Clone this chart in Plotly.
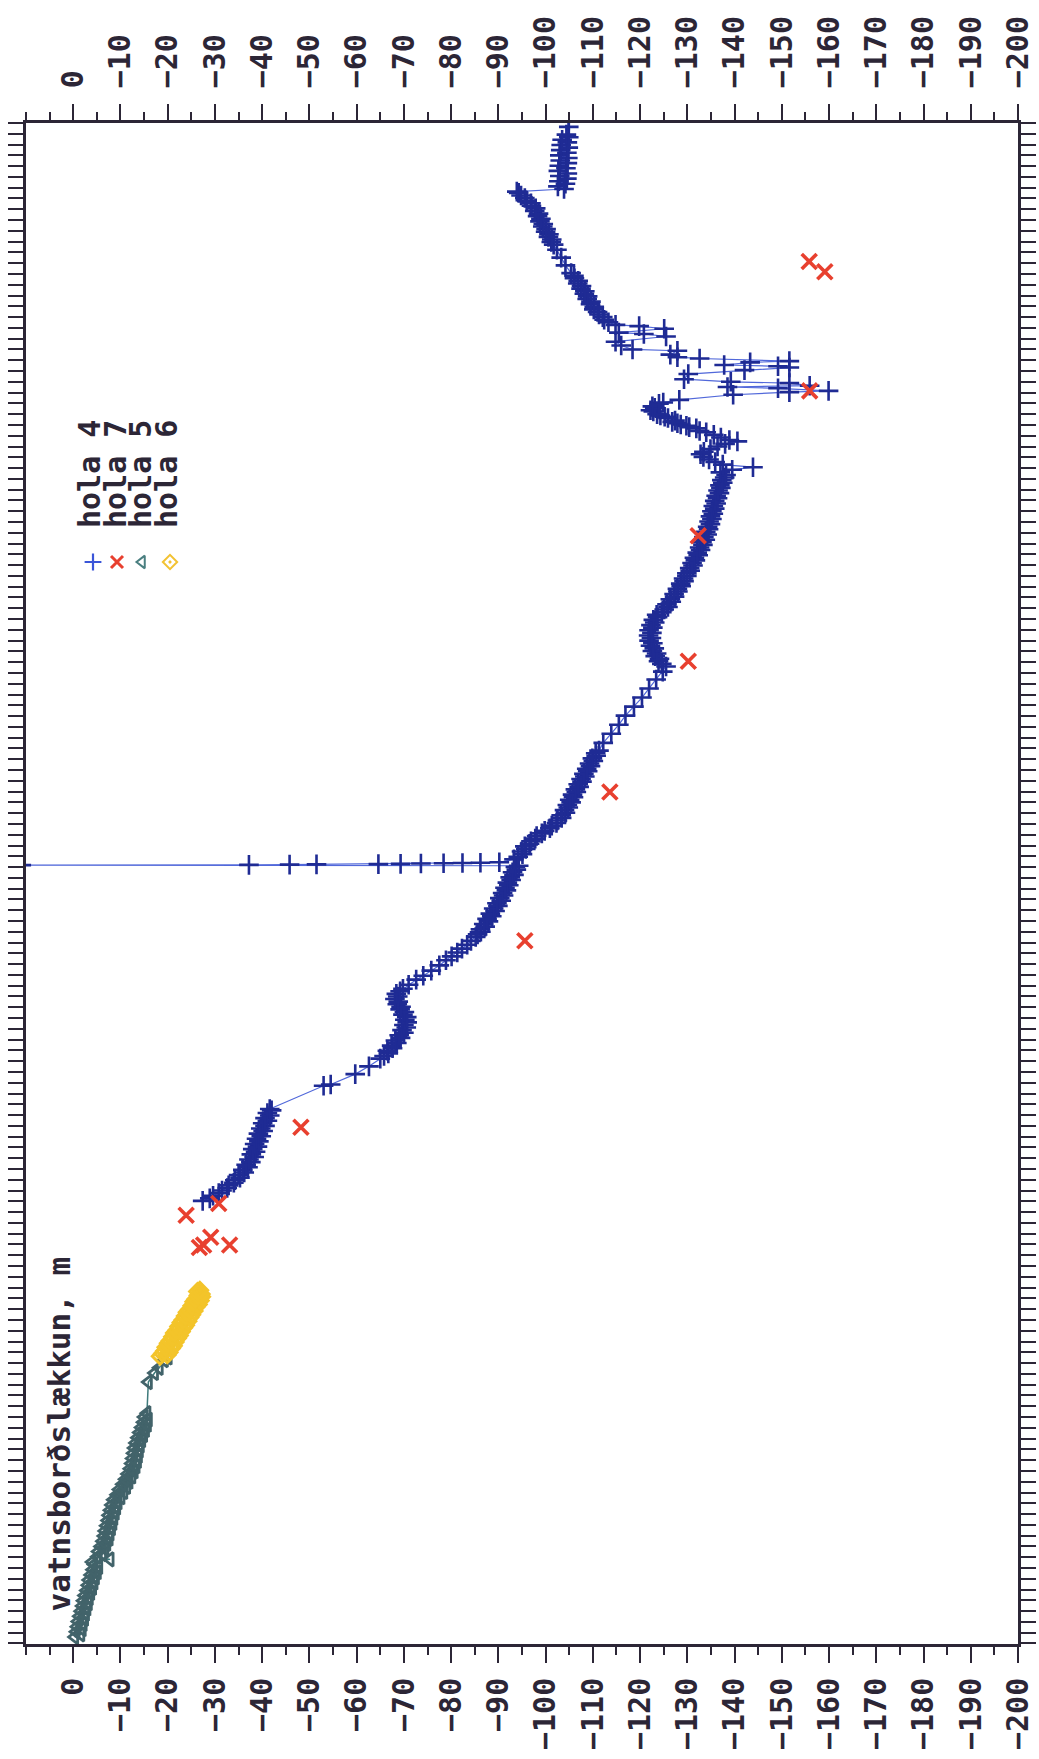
import plotly.graph_objects as go

# ---------------------------------------------------------------
# Water-level drawdown (m) in boreholes, plotted against time (yr).
# The sheet is drawn rotated: drawdown runs across, time runs up.
# ---------------------------------------------------------------

# hola 4: (time, drawdown) readings
h4 = [
    (1982.17, -27.4), (1982.19, -28.9), (1982.21, -29.6), (1982.23, -30.8), (1982.25, -31.5),
    (1982.27, -32.6), (1982.29, -32.9), (1982.31, -34.0), (1982.33, -34.2), (1982.35, -35.3),
    (1982.37, -35.0), (1982.39, -36.2), (1982.41, -35.9), (1982.43, -37.0), (1982.45, -36.6),
    (1982.47, -37.6), (1982.49, -37.2), (1982.51, -38.3), (1982.53, -37.7), (1982.55, -38.6),
    (1982.57, -38.0), (1982.59, -39.0), (1982.61, -38.4), (1982.63, -39.3), (1982.65, -38.8),
    (1982.67, -39.8), (1982.69, -39.2), (1982.71, -40.2), (1982.73, -39.7), (1982.75, -40.6),
    (1982.77, -40.1), (1982.79, -41.1), (1982.81, -40.6), (1982.83, -41.6), (1982.85, -41.1),
    (1982.87, -42.0), (1982.88, -41.6),
    (1983.06, -53.0), (1983.07, -54.5), (1983.15, -59.7), (1983.21, -62.6), (1983.27, -65.0),
    (1983.29, -65.8), (1983.31, -66.7), (1983.33, -66.5), (1983.35, -67.6), (1983.37, -67.4),
    (1983.39, -68.5), (1983.41, -68.2), (1983.43, -69.3), (1983.45, -69.0), (1983.47, -70.0),
    (1983.49, -69.6), (1983.51, -70.5), (1983.53, -70.0), (1983.55, -70.7), (1983.57, -70.2),
    (1983.59, -70.6), (1983.61, -69.8), (1983.63, -70.1), (1983.65, -69.2), (1983.67, -69.4),
    (1983.69, -68.6), (1983.71, -68.8), (1983.73, -68.1), (1983.75, -68.7), (1983.77, -68.4),
    (1983.79, -69.2), (1983.81, -69.8), (1983.84, -71.0),
    (1983.88, -72.6), (1983.91, -74.1), (1983.95, -75.8), (1983.99, -77.5), (1984.03, -78.9),
    (1984.06, -80.1), (1984.09, -81.3), (1984.12, -82.3), (1984.15, -83.4), (1984.18, -84.2),
    (1984.21, -85.2),
    (1984.23, -85.6), (1984.25, -86.3), (1984.27, -86.2), (1984.29, -87.2), (1984.31, -86.9),
    (1984.33, -87.9), (1984.35, -87.6), (1984.37, -88.6), (1984.39, -88.3), (1984.41, -89.3),
    (1984.43, -89.0), (1984.45, -89.9), (1984.47, -89.7), (1984.49, -90.6), (1984.51, -90.3),
    (1984.53, -91.1), (1984.55, -90.9), (1984.57, -91.7), (1984.59, -91.4), (1984.61, -92.2),
    (1984.63, -91.9), (1984.65, -92.7), (1984.67, -92.5), (1984.69, -93.3), (1984.71, -93.0),
    (1984.73, -93.8), (1984.75, -93.6), (1984.76, -94.3),
    # pump stop and recovery
    (1984.765, 11.0), (1984.767, -37.2), (1984.769, -45.8), (1984.771, -51.5),
    (1984.773, -64.6), (1984.775, -69.3), (1984.777, -73.6), (1984.779, -78.4),
    (1984.781, -82.4), (1984.783, -86.2), (1984.787, -90.2), (1984.81, -93.3),
    (1984.83, -94.2), (1984.85, -95.1), (1984.87, -94.9), (1984.89, -95.8), (1984.91, -95.6),
    (1984.93, -96.6), (1984.95, -96.9), (1984.97, -97.8), (1984.99, -98.1), (1985.01, -99.2),
    (1985.03, -99.8), (1985.05, -100.9), (1985.07, -101.3), (1985.09, -102.3), (1985.11, -102.5),
    (1985.13, -103.4), (1985.15, -103.3), (1985.17, -104.2), (1985.19, -104.0), (1985.21, -104.8),
    (1985.23, -104.6), (1985.25, -105.4), (1985.27, -105.1), (1985.29, -105.9), (1985.31, -105.7),
    (1985.33, -106.5), (1985.35, -106.3), (1985.37, -107.1), (1985.39, -106.9), (1985.41, -107.7),
    (1985.43, -107.5), (1985.45, -108.3), (1985.47, -108.1), (1985.49, -108.9), (1985.51, -108.7),
    (1985.53, -109.5), (1985.55, -109.3), (1985.57, -110.1), (1985.59, -109.9), (1985.61, -110.7),
    (1985.63, -110.6), (1985.65, -111.3),
    (1985.71, -112.2), (1985.78, -113.9), (1985.85, -115.5), (1985.92, -116.9), (1985.99, -118.7),
    (1986.06, -120.4), (1986.13, -121.9), (1986.20, -123.4), (1986.26, -124.8), (1986.30, -125.5),
    (1986.32, -124.6), (1986.34, -123.9), (1986.36, -124.1), (1986.38, -123.2), (1986.40, -123.5),
    (1986.42, -122.6), (1986.44, -123.0), (1986.46, -122.2), (1986.48, -122.7), (1986.50, -121.9),
    (1986.52, -122.4), (1986.54, -121.8), (1986.56, -122.5), (1986.58, -121.9), (1986.60, -122.7),
    (1986.62, -122.3), (1986.64, -123.1), (1986.66, -122.8), (1986.68, -123.7), (1986.70, -123.5),
    (1986.72, -124.6), (1986.74, -125.1),
    (1986.76, -125.9), (1986.78, -125.7), (1986.80, -126.6), (1986.82, -126.4), (1986.84, -127.3),
    (1986.86, -127.2), (1986.88, -128.0), (1986.90, -127.9), (1986.92, -128.7), (1986.94, -128.6),
    (1986.96, -129.3), (1986.98, -129.2), (1987.00, -129.9), (1987.02, -129.9), (1987.04, -130.6),
    (1987.06, -130.5), (1987.08, -131.2), (1987.10, -131.0), (1987.12, -131.7), (1987.14, -131.5),
    (1987.16, -132.3), (1987.18, -132.1), (1987.20, -132.8), (1987.22, -132.6), (1987.24, -133.3),
    (1987.26, -133.1), (1987.28, -133.8), (1987.30, -133.5), (1987.32, -134.2), (1987.34, -133.9),
    (1987.36, -134.5), (1987.38, -134.3), (1987.40, -134.9), (1987.42, -134.6), (1987.44, -135.2),
    (1987.46, -134.9), (1987.48, -135.5), (1987.50, -135.2), (1987.52, -135.8), (1987.54, -135.5),
    (1987.56, -136.1), (1987.58, -135.8), (1987.60, -136.4), (1987.62, -136.1), (1987.64, -136.8),
    (1987.66, -136.5), (1987.68, -137.1), (1987.70, -136.9), (1987.72, -137.5), (1987.74, -137.3),
    (1987.76, -137.9),
    (1987.78, -138.2), (1987.80, -137.0), (1987.82, -139.5), (1987.84, -143.9), (1987.86, -137.5),
    (1987.88, -135.9), (1987.90, -134.6), (1987.92, -133.4), (1987.94, -132.8), (1987.96, -133.5),
    (1987.98, -134.9), (1988.00, -136.4), (1988.02, -138.0), (1988.04, -140.6), (1988.05, -138.9),
    (1988.07, -137.1), (1988.09, -135.6), (1988.11, -134.0), (1988.12, -132.6), (1988.14, -131.9),
    (1988.15, -130.4), (1988.16, -129.8), (1988.17, -128.6), (1988.18, -127.9), (1988.19, -126.8),
    (1988.20, -127.4), (1988.22, -125.9), (1988.23, -125.2), (1988.24, -124.3), (1988.25, -123.6),
    (1988.27, -122.8), (1988.28, -122.2), (1988.30, -123.1), (1988.31, -122.6), (1988.33, -124.0),
    (1988.34, -124.9),
    (1988.36, -128.3), (1988.40, -139.7), (1988.42, -151.6), (1988.43, -159.9), (1988.45, -149.2),
    (1988.46, -138.5), (1988.47, -155.9), (1988.49, -151.6), (1988.50, -139.2), (1988.52, -129.3),
    (1988.56, -130.2), (1988.59, -142.1), (1988.61, -151.6), (1988.62, -149.2), (1988.63, -137.8),
    (1988.65, -143.3), (1988.66, -151.6), (1988.68, -132.6), (1988.69, -127.9), (1988.71, -126.4),
    (1988.74, -127.9), (1988.75, -118.4), (1988.78, -116.0), (1988.81, -114.8), (1988.85, -125.5),
    (1988.87, -120.8), (1988.88, -115.5), (1988.91, -125.1), (1988.93, -119.8), (1988.94, -114.8),
    (1988.96, -113.3), (1988.98, -112.4), (1989.00, -112.1), (1989.02, -111.3), (1989.04, -111.0),
    (1989.06, -110.2), (1989.08, -110.3), (1989.10, -109.5), (1989.12, -109.6), (1989.14, -108.8),
    (1989.16, -108.9), (1989.18, -108.2), (1989.20, -108.3), (1989.22, -107.5), (1989.24, -107.6),
    (1989.26, -106.8), (1989.28, -106.9), (1989.30, -106.1), (1989.32, -106.0), (1989.34, -105.4),
    (1989.40, -104.2), (1989.46, -103.3), (1989.52, -102.4),
    (1989.56, -101.7), (1989.58, -101.2), (1989.60, -101.3), (1989.62, -100.6), (1989.64, -100.7),
    (1989.66, -100.0), (1989.68, -100.1), (1989.70, -99.4), (1989.72, -99.5), (1989.74, -98.8),
    (1989.76, -99.0), (1989.78, -98.3), (1989.80, -98.5), (1989.82, -97.7), (1989.84, -97.9),
    (1989.86, -97.0), (1989.88, -96.9), (1989.90, -96.0), (1989.92, -95.6), (1989.94, -94.8),
    (1989.96, -94.3), (1989.97, -93.9),
    (1989.99, -103.9), (1990.01, -102.6), (1990.03, -104.2), (1990.05, -102.8), (1990.07, -104.5),
    (1990.09, -103.0), (1990.11, -104.6), (1990.13, -102.7), (1990.15, -104.3), (1990.17, -102.9),
    (1990.19, -104.6), (1990.21, -103.1), (1990.23, -104.7), (1990.25, -103.0), (1990.27, -104.5),
    (1990.29, -103.2), (1990.31, -104.8), (1990.33, -103.3), (1990.35, -104.6), (1990.37, -103.5),
    (1990.39, -104.9), (1990.41, -104.4), (1990.47, -104.9), (1990.52, -104.9),
]
h4_t = [p[0] for p in h4]
h4_d = [p[1] for p in h4]

# hola 7 (single readings)
h7_t = [1982.06, 1982.15, 1981.81, 1981.83, 1981.89, 1981.83, 1982.74, 1984.18,
        1985.33, 1986.34, 1987.31, 1988.43, 1989.43, 1989.35]
h7_d = [-23.9, -30.8, -26.7, -27.6, -29.1, -33.1, -48.2, -95.6,
        -113.6, -130.2, -132.3, -155.9, -155.8, -159.1]

# hola 5: (time, drawdown) readings
h5 = [
    (1978.80, -0.3), (1978.82, -1.6), (1978.84, -0.6), (1978.86, -1.9), (1978.88, -0.8),
    (1978.90, -2.1), (1978.92, -1.0), (1978.94, -2.4), (1978.96, -1.3), (1978.98, -2.6),
    (1979.00, -1.6), (1979.02, -2.9), (1979.04, -1.9), (1979.06, -3.2), (1979.08, -2.1),
    (1979.10, -3.4), (1979.12, -2.4), (1979.14, -3.7), (1979.16, -2.8), (1979.18, -4.1),
    (1979.20, -3.1), (1979.22, -4.4), (1979.24, -3.3), (1979.26, -4.7), (1979.28, -3.7),
    (1979.30, -5.1), (1979.32, -4.1), (1979.34, -5.4), (1979.36, -4.4), (1979.38, -4.0),
    (1979.40, -7.8), (1979.42, -5.1), (1979.44, -6.2), (1979.46, -5.3), (1979.48, -6.7),
    (1979.50, -5.8), (1979.52, -7.1), (1979.54, -6.2), (1979.56, -7.6), (1979.58, -6.5),
    (1979.60, -7.8), (1979.62, -6.7), (1979.64, -8.1), (1979.66, -7.0), (1979.68, -8.4),
    (1979.70, -7.3), (1979.72, -8.6), (1979.74, -7.5), (1979.76, -8.9), (1979.78, -7.8),
    (1979.80, -9.2), (1979.82, -8.1), (1979.84, -9.5), (1979.86, -8.5), (1979.88, -10.1),
    (1979.90, -9.2), (1979.92, -10.7), (1979.94, -9.7), (1979.96, -11.3), (1979.98, -10.4),
    (1980.00, -11.8), (1980.02, -11.0), (1980.04, -12.4), (1980.06, -11.5), (1980.08, -12.9),
    (1980.10, -12.0), (1980.12, -13.3), (1980.14, -12.3), (1980.16, -13.6), (1980.18, -12.5),
    (1980.20, -13.8), (1980.22, -12.7), (1980.24, -14.0), (1980.26, -12.9), (1980.28, -14.2),
    (1980.30, -13.2), (1980.32, -14.5), (1980.34, -13.6), (1980.36, -14.9), (1980.38, -14.0),
    (1980.40, -15.3), (1980.42, -14.4), (1980.44, -15.7), (1980.46, -14.8), (1980.48, -15.9),
    (1980.50, -15.0), (1980.53, -15.6),
    (1980.77, -15.9), (1980.84, -17.2), (1980.88, -18.2), (1980.94, -19.3), (1980.96, -20.1),
]
h5_t = [p[0] for p in h5]
h5_d = [p[1] for p in h5]

# hola 6
h6_t = [1980.97, 1980.98, 1980.99, 1981.00, 1981.01, 1981.03, 1981.04, 1981.05, 1981.07,
        1981.08, 1981.09, 1981.11, 1981.12, 1981.13, 1981.15, 1981.16, 1981.17, 1981.19,
        1981.20, 1981.21, 1981.23, 1981.24, 1981.25, 1981.27, 1981.28, 1981.29, 1981.31,
        1981.32, 1981.33, 1981.35, 1981.36, 1981.37, 1981.39, 1981.40, 1981.41, 1981.43,
        1981.44, 1981.45, 1981.47, 1981.48]
h6_d = [-18.4, -19.9, -18.9, -20.3, -19.3, -20.8, -19.6, -21.2, -20.1,
        -21.6, -20.5, -22.1, -21.0, -22.5, -21.4, -22.9, -21.9, -23.4,
        -22.3, -23.8, -22.8, -24.3, -23.2, -24.7, -23.7, -25.1, -24.1,
        -25.6, -24.6, -26.0, -25.1, -26.5, -25.5, -26.9, -25.9, -27.2,
        -26.4, -27.1, -26.3, -26.8]

# drawdown axis ticks
depth_ticks = list(range(0, -201, -10))
depth_labels = ["0" if v == 0 else "\u2212" + str(-v) for v in depth_ticks]

INK = "#2c2636"
MONO = "DejaVu Sans Mono, Liberation Mono, monospace"

fig = go.Figure()

fig.add_trace(go.Scatter(
    x=h4_d, y=h4_t, mode="lines+markers", name="hola 4",
    line=dict(color="#5168da", width=1.2),
    marker=dict(symbol="cross-thin", size=14, line=dict(color="#1f2b94", width=2.6)),
))
fig.add_trace(go.Scatter(
    x=h7_d, y=h7_t, mode="markers", name="hola 7",
    marker=dict(symbol="x-thin", size=15, line=dict(color="#e8402f", width=3.6)),
))
fig.add_trace(go.Scatter(
    x=h5_d, y=h5_t, mode="lines+markers", name="hola 5",
    line=dict(color="#3f7b7c", width=1.5),
    marker=dict(symbol="triangle-left-open", size=12, color="#42636a", line=dict(width=2.8)),
))
fig.add_trace(go.Scatter(
    x=h6_d, y=h6_t, mode="lines+markers", name="hola 6",
    line=dict(color="#f0c02c", width=1.5),
    marker=dict(symbol="diamond-open-dot", size=12, color="#f3c42a", line=dict(width=3)),
))

# invisible anchor so the top drawdown axis is drawn
fig.add_trace(go.Scatter(x=[0], y=[1985], xaxis="x2", mode="markers",
                         marker=dict(opacity=0), hoverinfo="skip", showlegend=False))

PLOT_L, PLOT_R, PLOT_T, PLOT_B = 26, 1018, 123, 1644
W, H = 1039, 1759

# legend key, laid out in plot-area pixels on a hidden overlay axis
key_x = [93, 117, 142, 170]
key_y = 562
key_styles = [
    dict(symbol="cross-thin", size=12, line=dict(color="#3a55d8", width=2.2)),
    dict(symbol="x-thin", size=12, line=dict(color="#e8402f", width=3)),
    dict(symbol="triangle-left-open", size=11, color="#4a7f80", line=dict(width=2)),
    dict(symbol="diamond-open-dot", size=11, color="#f2c232", line=dict(width=2)),
]
for kx, ks in zip(key_x, key_styles):
    fig.add_trace(go.Scatter(x=[kx], y=[key_y], xaxis="x3", yaxis="y3", mode="markers",
                             marker=ks, hoverinfo="skip", showlegend=False))


def px(x):
    return (x - PLOT_L) / (PLOT_R - PLOT_L)


def py(y):
    return (PLOT_B - y) / (PLOT_B - PLOT_T)


annotations = []
legend_names = ["hola 4", "hola 7", "hola 5", "hola 6"]
legend_cols = [89, 115, 140, 166]
for name, cx in zip(legend_names, legend_cols):
    annotations.append(dict(
        text=name, x=px(cx), y=py(530), xref="paper", yref="paper",
        xanchor="center", yanchor="bottom", textangle=-90, showarrow=False,
        font=dict(family=MONO, size=30, color=INK, weight="bold"),
    ))
annotations.append(dict(
    text="vatnsborðslækkun, m", x=px(58), y=py(1614), xref="paper", yref="paper",
    xanchor="center", yanchor="bottom", textangle=-90, showarrow=False,
    font=dict(family=MONO, size=31, color=INK, weight="bold"),
))

tickfont = dict(family=MONO, size=30, color=INK, weight="bold")
minor_x = dict(tickmode="linear", tick0=0, dtick=5, ticks="outside", ticklen=8,
               tickwidth=2, tickcolor=INK)

fig.update_layout(
    width=W, height=H,
    margin=dict(l=PLOT_L, r=W - PLOT_R, t=PLOT_T, b=H - PLOT_B, pad=0),
    paper_bgcolor="white", plot_bgcolor="white",
    showlegend=False,
    xaxis=dict(
        range=[10, -200], autorange=False, automargin=False, tickmode="array",
        tickvals=depth_ticks, ticktext=depth_labels, tickangle=-90, tickfont=tickfont,
        ticks="outside", ticklen=16, tickwidth=2, tickcolor=INK,
        showline=True, linecolor=INK, linewidth=2.5, mirror=True,
        showgrid=False, zeroline=False, minor=minor_x, ticklabelstandoff=3,
    ),
    xaxis2=dict(
        range=[10, -200], autorange=False, automargin=False, overlaying="x", side="top",
        anchor="y", tickmode="array", tickvals=depth_ticks, ticktext=depth_labels,
        tickangle=-90, tickfont=tickfont, ticks="outside", ticklen=16, tickwidth=2,
        tickcolor=INK, showline=True, linecolor=INK, linewidth=2.5,
        showgrid=False, zeroline=False, minor=minor_x, ticklabelstandoff=10,
    ),
    yaxis=dict(
        range=[1978.746, 1990.5], autorange=False, automargin=False, tick0=1979, dtick=1,
        showticklabels=False, ticks="outside", ticklen=15, tickwidth=2, tickcolor=INK,
        showline=True, linecolor=INK, linewidth=2.5, mirror="allticks",
        showgrid=False, zeroline=False,
        minor=dict(tick0=1979, dtick=1 / 12, ticks="outside", ticklen=8,
                   tickwidth=2, tickcolor=INK),
    ),
    xaxis3=dict(range=[PLOT_L, PLOT_R], autorange=False, overlaying="x", visible=False),
    yaxis3=dict(range=[PLOT_B, PLOT_T], autorange=False, overlaying="y", visible=False),
    annotations=annotations,
)

fig.write_html("out.html")
